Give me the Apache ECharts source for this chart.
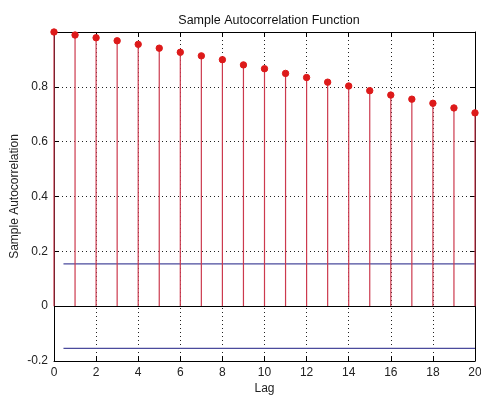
<!DOCTYPE html>
<html>
<head>
<meta charset="utf-8">
<script src="https://cdn.jsdelivr.net/npm/echarts@6/dist/echarts.min.js"></script>
<style>
  html, body { margin: 0; padding: 0; background: #fff; }
  #chart { width: 481px; height: 399px; }
</style>
</head>
<body>
<div id="chart"></div>
<script>
// sample autocorrelation
const lags = [0, 1, 2, 3, 4, 5, 6, 7, 8, 9, 10, 11, 12, 13, 14, 15, 16, 17, 18, 19, 20];
const acf = [1.0, 0.989, 0.979, 0.968, 0.955, 0.941, 0.926, 0.913, 0.899, 0.880, 0.866,
  0.849, 0.834, 0.817, 0.803, 0.786, 0.770, 0.755, 0.740, 0.723, 0.705];
const boundLags = [0.45, 20];
const upperBound = 0.154;
const lowerBound = -0.154;

const fontFamily = "'Liberation Sans', Arial, sans-serif";
const stemColor = "#cc3a4e";
const dotColor = "#dd1a1a";
const boundColor = "#4a4a9c";

const chart = echarts.init(document.getElementById("chart"));

const stemData = lags.map((lag, i) => [lag, acf[i]]);

const tickStyle = { inside: true, length: 5, lineStyle: { color: "#000" } };
const gridDots = { show: true, lineStyle: { color: "#222", type: [1, 3], width: 1 } };

chart.setOption({
  animation: false,
  title: {
    text: "Sample Autocorrelation Function",
    left: 264,
    top: 9,
    textAlign: "center",
    textStyle: { fontFamily, fontSize: 12.5, fontWeight: "normal", color: "#111" },
  },
  grid: { left: 54, right: 6, top: 32, bottom: 38, outerBoundsMode: "none", containLabel: false },
  xAxis: [
    {
      type: "value",
      min: 0,
      max: 20,
      interval: 2,
      name: "Lag",
      nameLocation: "middle",
      nameGap: 22,
      nameMoveOverlap: false,
      nameTextStyle: { fontFamily, fontSize: 12, color: "#222" },
      axisLine: { onZero: false, lineStyle: { color: "#000" } },
      axisTick: tickStyle,
      axisLabel: { fontFamily, fontSize: 12, color: "#222", margin: 6 },
      splitLine: gridDots,
    },
    {
      type: "value",
      position: "top",
      min: 0,
      max: 20,
      interval: 2,
      axisLine: { onZero: false, lineStyle: { color: "#000" } },
      axisTick: tickStyle,
      axisLabel: { show: false },
      splitLine: { show: false },
    },
  ],
  yAxis: [
    {
      type: "value",
      min: -0.2,
      max: 1,
      interval: 0.2,
      name: "Sample Autocorrelation",
      nameLocation: "middle",
      nameGap: 33,
      nameMoveOverlap: false,
      nameTextStyle: { fontFamily, fontSize: 12, color: "#222" },
      axisLine: { lineStyle: { color: "#000" } },
      axisTick: tickStyle,
      axisLabel: {
        fontFamily,
        fontSize: 12,
        color: "#222",
        margin: 6,
        formatter: (v) => (Math.abs(v - 1) < 1e-9 ? "" : String(Math.round(v * 10) / 10)),
      },
      splitLine: gridDots,
    },
    {
      type: "value",
      position: "right",
      min: -0.2,
      max: 1,
      interval: 0.2,
      axisLine: { show: true, onZero: false, lineStyle: { color: "#000" } },
      axisTick: { show: true, inside: true, length: 5, lineStyle: { color: "#000" } },
      axisLabel: { show: false },
      splitLine: { show: false },
    },
  ],
  series: [
    {
      type: "custom",
      data: stemData,
      renderItem(params, api) {
        const base = api.coord([api.value(0), 0]);
        const top = api.coord([api.value(0), api.value(1)]);
        return {
          type: "group",
          children: [
            {
              type: "line",
              shape: { x1: base[0], y1: base[1], x2: top[0], y2: top[1] },
              style: { stroke: stemColor, lineWidth: 1.2 },
            },
            {
              type: "circle",
              shape: { cx: top[0], cy: top[1], r: 3.2 },
              style: { fill: dotColor, stroke: dotColor },
            },
          ],
        };
      },
      markLine: {
        silent: true,
        symbol: "none",
        label: { show: false },
        lineStyle: { color: "#000", type: "solid", width: 1 },
        data: [{ yAxis: 0 }],
      },
      z: 3,
    },
    {
      type: "line",
      data: boundLags.map((x) => [x, upperBound]),
      symbol: "none",
      lineStyle: { color: boundColor, width: 1.2 },
      z: 2,
    },
    {
      type: "line",
      data: boundLags.map((x) => [x, lowerBound]),
      symbol: "none",
      lineStyle: { color: boundColor, width: 1.2 },
      z: 2,
    },
  ],
});
</script>
</body>
</html>
